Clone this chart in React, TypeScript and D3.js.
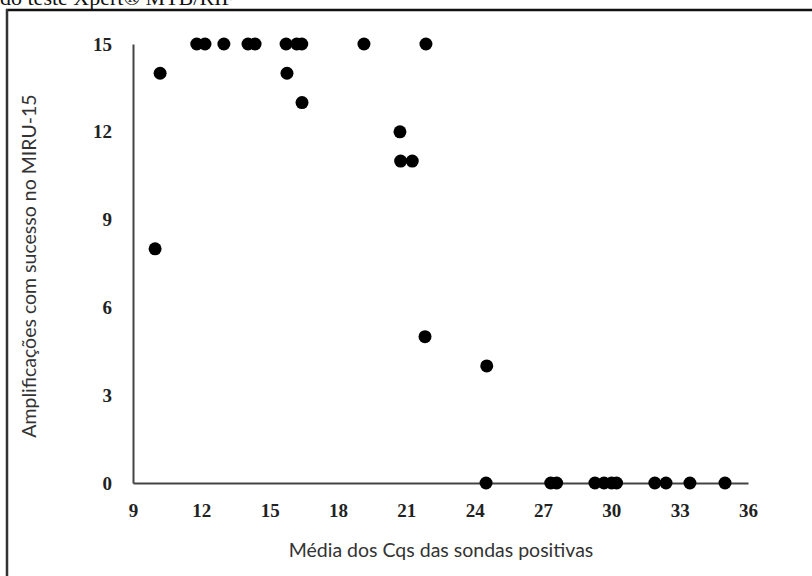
import React, { useEffect, useRef } from "react";
import * as d3 from "d3";

// Média dos Cqs das sondas positivas (x) vs amplificações com sucesso no MIRU-15 (y)
const cqMeans = [
  11.8, 12.16, 12.99, 14.05, 14.36, 15.72, 16.19, 16.41, 19.14, 21.86,
  10.19, 15.76, 16.42, 20.72, 20.75, 21.26, 9.97, 21.82, 24.53,
  24.5, 27.34, 27.6, 29.28, 29.68, 30.01, 30.23, 31.91, 32.4, 33.45, 34.99,
];
const amplifications = [
  15, 15, 15, 15, 15, 15, 15, 15, 15, 15,
  14, 14, 13, 12, 11, 11, 8, 5, 4,
  0, 0, 0, 0, 0, 0, 0, 0, 0, 0, 0,
];
const xTicks = [9, 12, 15, 18, 21, 24, 27, 30, 33, 36];
const yTicks = [0, 3, 6, 9, 12, 15];

const App = () => {
  const ref = useRef<SVGSVGElement>(null);

  useEffect(() => {
    const width = 812;
    const height = 576;
    const svg = d3.select(ref.current).attr("width", width).attr("height", height);
    svg.selectAll("*").remove();

    svg.append("rect").attr("width", width).attr("height", height).attr("fill", "white");

    // caption cut at the top + frame
    svg.append("text")
      .attr("x", 0)
      .attr("y", 5)
      .attr("font-family", "'Liberation Serif', serif")
      .attr("font-size", 22)
      .attr("fill", "#111")
      .text("do teste Xpert® MTB/RIF");

    svg.append("line").attr("x1", 6).attr("x2", width).attr("y1", 10).attr("y2", 10)
      .attr("stroke", "#111").attr("stroke-width", 2.5);
    svg.append("line").attr("x1", 7).attr("x2", 7).attr("y1", 9).attr("y2", height)
      .attr("stroke", "#333").attr("stroke-width", 2.5);

    const x = d3.scaleLinear().domain([9, 36]).range([133, 748]);
    const y = d3.scaleLinear().domain([0, 15]).range([483, 44]);

    const xAxis = svg.append("g")
      .attr("transform", `translate(0,${y(0)})`)
      .call(d3.axisBottom(x).tickValues(xTicks).tickSize(0).tickPadding(21).tickFormat(d3.format("d")));
    const yAxis = svg.append("g")
      .attr("transform", `translate(${x(9)},0)`)
      .call(d3.axisLeft(y).tickValues(yTicks).tickSize(0).tickPadding(21).tickFormat(d3.format("d")));

    [xAxis, yAxis].forEach((ax) => {
      ax.select(".domain").attr("stroke", "#444").attr("stroke-width", 2);
      ax.selectAll("text")
        .attr("font-family", "'Liberation Serif', serif")
        .attr("font-weight", "bold")
        .attr("font-size", 19)
        .attr("fill", "#222");
    });

    svg.append("text")
      .attr("x", 441)
      .attr("y", 557)
      .attr("text-anchor", "middle")
      .attr("font-family", "Lato, sans-serif")
      .attr("font-size", 19.5)
      .attr("fill", "#333")
      .text("Média dos Cqs das sondas positivas");

    svg.append("text")
      .attr("transform", `translate(36,266) rotate(-90)`)
      .attr("text-anchor", "middle")
      .attr("font-family", "Lato, sans-serif")
      .attr("font-size", 19.5)
      .attr("fill", "#333")
      .text("Amplificações com sucesso no MIRU-15");

    svg.append("g")
      .selectAll("circle")
      .data(cqMeans.map((c, i) => [c, amplifications[i]]))
      .join("circle")
      .attr("cx", (d) => x(d[0]))
      .attr("cy", (d) => y(d[1]))
      .attr("r", 6.5)
      .attr("fill", "#000");
  }, []);

  return <svg ref={ref} style={{ position: "absolute", left: 0, top: 0, display: "block" }} />;
};

export default App;
